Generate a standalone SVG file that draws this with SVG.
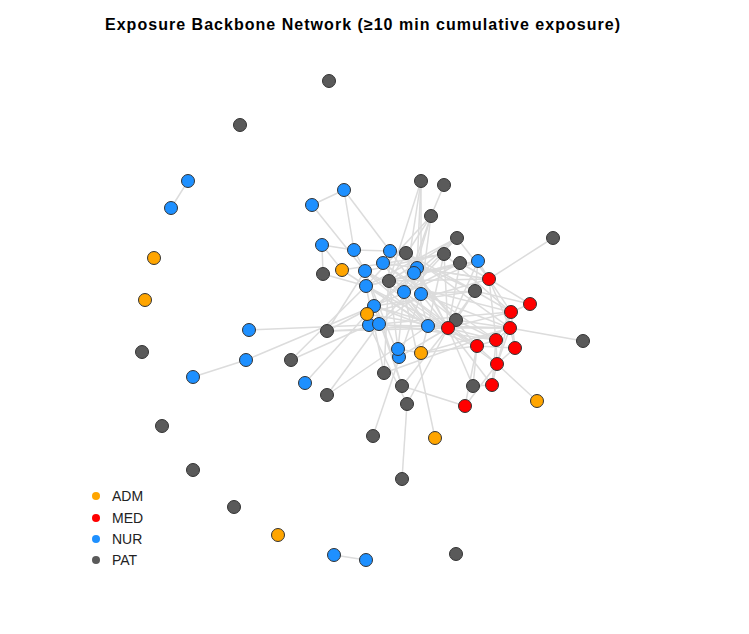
<svg xmlns="http://www.w3.org/2000/svg" width="749" height="634" viewBox="0 0 749 634">
<style>
.e{stroke:#dcdcdc;stroke-width:1.5;fill:none}
.n{stroke:#333;stroke-width:1}
.adm{fill:#FFA500}.med{fill:#FF0000}.nur{fill:#1E90FF}.pat{fill:#5A5A5A}
text{font-family:"Liberation Sans",Arial,sans-serif;fill:#222}
.t{font-size:16px;font-weight:bold;fill:#000}
.l{font-size:14px}
</style>
<rect width="749" height="634" fill="#fff"/>
<text class="t" x="105" y="30" textLength="515" lengthAdjust="spacing">Exposure Backbone Network (≥10 min cumulative exposure)</text>
<g id="connectors">
<line class="e" x1="188" y1="181" x2="171" y2="208"/>
<line class="e" x1="334" y1="555" x2="366" y2="560"/>
<line class="e" x1="246" y1="360" x2="193" y2="377"/>
<line class="e" x1="344" y1="190" x2="312" y2="205"/>
<line class="e" x1="344" y1="190" x2="354" y2="250"/>
<line class="e" x1="344" y1="190" x2="390" y2="251"/>
<line class="e" x1="312" y1="205" x2="365" y2="271"/>
<line class="e" x1="322" y1="245" x2="354" y2="250"/>
<line class="e" x1="322" y1="245" x2="323" y2="274"/>
<line class="e" x1="322" y1="245" x2="342" y2="270"/>
<line class="e" x1="354" y1="250" x2="390" y2="251"/>
<line class="e" x1="354" y1="250" x2="365" y2="271"/>
<line class="e" x1="421" y1="181" x2="417" y2="268"/>
<line class="e" x1="421" y1="181" x2="404" y2="292"/>
<line class="e" x1="421" y1="181" x2="389" y2="281"/>
<line class="e" x1="421" y1="181" x2="421" y2="294"/>
<line class="e" x1="444" y1="185" x2="431" y2="216"/>
<line class="e" x1="431" y1="216" x2="414" y2="273"/>
<line class="e" x1="431" y1="216" x2="404" y2="292"/>
<line class="e" x1="431" y1="216" x2="389" y2="281"/>
<line class="e" x1="431" y1="216" x2="366" y2="286"/>
<line class="e" x1="431" y1="216" x2="421" y2="294"/>
<line class="e" x1="553" y1="238" x2="489" y2="279"/>
<line class="e" x1="583" y1="341" x2="510" y2="328"/>
<line class="e" x1="537" y1="401" x2="497" y2="364"/>
<line class="e" x1="249" y1="330" x2="369" y2="325"/>
<line class="e" x1="246" y1="360" x2="374" y2="306"/>
<line class="e" x1="291" y1="360" x2="369" y2="325"/>
<line class="e" x1="291" y1="360" x2="366" y2="286"/>
<line class="e" x1="305" y1="383" x2="367" y2="314"/>
<line class="e" x1="327" y1="395" x2="379" y2="324"/>
<line class="e" x1="327" y1="331" x2="365" y2="271"/>
<line class="e" x1="327" y1="331" x2="374" y2="306"/>
<line class="e" x1="327" y1="331" x2="428" y2="326"/>
<line class="e" x1="327" y1="331" x2="448" y2="328"/>
<line class="e" x1="373" y1="436" x2="421" y2="294"/>
<line class="e" x1="435" y1="438" x2="404" y2="292"/>
<line class="e" x1="402" y1="479" x2="407" y2="404"/>
<line class="e" x1="402" y1="386" x2="465" y2="406"/>
<line class="e" x1="407" y1="404" x2="448" y2="328"/>
<line class="e" x1="473" y1="386" x2="492" y2="385"/>
<line class="e" x1="473" y1="386" x2="477" y2="346"/>
<line class="e" x1="473" y1="386" x2="448" y2="328"/>
<line class="e" x1="465" y1="406" x2="497" y2="364"/>
<line class="e" x1="465" y1="406" x2="477" y2="346"/>
<line class="e" x1="492" y1="385" x2="497" y2="364"/>
<line class="e" x1="492" y1="385" x2="496" y2="340"/>
<line class="e" x1="492" y1="385" x2="448" y2="328"/>
<line class="e" x1="365" y1="271" x2="428" y2="326"/>
<line class="e" x1="365" y1="271" x2="444" y2="254"/>
<line class="e" x1="365" y1="271" x2="448" y2="328"/>
<line class="e" x1="365" y1="271" x2="404" y2="292"/>
<line class="e" x1="366" y1="286" x2="428" y2="326"/>
<line class="e" x1="366" y1="286" x2="448" y2="328"/>
<line class="e" x1="366" y1="286" x2="460" y2="263"/>
<line class="e" x1="366" y1="286" x2="478" y2="261"/>
<line class="e" x1="374" y1="306" x2="448" y2="328"/>
<line class="e" x1="374" y1="306" x2="477" y2="346"/>
<line class="e" x1="374" y1="306" x2="475" y2="291"/>
<line class="e" x1="374" y1="306" x2="478" y2="261"/>
<line class="e" x1="369" y1="325" x2="428" y2="326"/>
<line class="e" x1="369" y1="325" x2="510" y2="328"/>
<line class="e" x1="369" y1="325" x2="511" y2="312"/>
<line class="e" x1="379" y1="324" x2="496" y2="340"/>
<line class="e" x1="379" y1="324" x2="444" y2="254"/>
<line class="e" x1="379" y1="324" x2="421" y2="294"/>
<line class="e" x1="367" y1="314" x2="448" y2="328"/>
<line class="e" x1="367" y1="314" x2="457" y2="238"/>
<line class="e" x1="367" y1="314" x2="417" y2="268"/>
<line class="e" x1="367" y1="314" x2="489" y2="279"/>
<line class="e" x1="383" y1="263" x2="489" y2="279"/>
<line class="e" x1="383" y1="263" x2="428" y2="326"/>
<line class="e" x1="383" y1="263" x2="456" y2="320"/>
<line class="e" x1="383" y1="263" x2="496" y2="340"/>
<line class="e" x1="390" y1="251" x2="421" y2="294"/>
<line class="e" x1="390" y1="251" x2="475" y2="291"/>
<line class="e" x1="417" y1="268" x2="448" y2="328"/>
<line class="e" x1="417" y1="268" x2="489" y2="279"/>
<line class="e" x1="414" y1="273" x2="477" y2="346"/>
<line class="e" x1="414" y1="273" x2="456" y2="320"/>
<line class="e" x1="414" y1="273" x2="478" y2="261"/>
<line class="e" x1="406" y1="253" x2="448" y2="328"/>
<line class="e" x1="406" y1="253" x2="475" y2="291"/>
<line class="e" x1="406" y1="253" x2="428" y2="326"/>
<line class="e" x1="406" y1="253" x2="510" y2="328"/>
<line class="e" x1="389" y1="281" x2="489" y2="279"/>
<line class="e" x1="389" y1="281" x2="428" y2="326"/>
<line class="e" x1="389" y1="281" x2="511" y2="312"/>
<line class="e" x1="389" y1="281" x2="457" y2="238"/>
<line class="e" x1="444" y1="254" x2="448" y2="328"/>
<line class="e" x1="444" y1="254" x2="511" y2="312"/>
<line class="e" x1="444" y1="254" x2="428" y2="326"/>
<line class="e" x1="460" y1="263" x2="489" y2="279"/>
<line class="e" x1="460" y1="263" x2="404" y2="292"/>
<line class="e" x1="460" y1="263" x2="448" y2="328"/>
<line class="e" x1="478" y1="261" x2="489" y2="279"/>
<line class="e" x1="478" y1="261" x2="448" y2="328"/>
<line class="e" x1="478" y1="261" x2="475" y2="291"/>
<line class="e" x1="457" y1="238" x2="404" y2="292"/>
<line class="e" x1="457" y1="238" x2="489" y2="279"/>
<line class="e" x1="457" y1="238" x2="366" y2="286"/>
<line class="e" x1="475" y1="291" x2="448" y2="328"/>
<line class="e" x1="475" y1="291" x2="511" y2="312"/>
<line class="e" x1="475" y1="291" x2="530" y2="304"/>
<line class="e" x1="475" y1="291" x2="456" y2="320"/>
<line class="e" x1="456" y1="320" x2="510" y2="328"/>
<line class="e" x1="456" y1="320" x2="496" y2="340"/>
<line class="e" x1="456" y1="320" x2="428" y2="326"/>
<line class="e" x1="404" y1="292" x2="448" y2="328"/>
<line class="e" x1="404" y1="292" x2="428" y2="326"/>
<line class="e" x1="404" y1="292" x2="477" y2="346"/>
<line class="e" x1="421" y1="294" x2="510" y2="328"/>
<line class="e" x1="421" y1="294" x2="448" y2="328"/>
<line class="e" x1="421" y1="294" x2="475" y2="291"/>
<line class="e" x1="428" y1="326" x2="448" y2="328"/>
<line class="e" x1="428" y1="326" x2="510" y2="328"/>
<line class="e" x1="428" y1="326" x2="421" y2="353"/>
<line class="e" x1="448" y1="328" x2="510" y2="328"/>
<line class="e" x1="448" y1="328" x2="511" y2="312"/>
<line class="e" x1="448" y1="328" x2="477" y2="346"/>
<line class="e" x1="448" y1="328" x2="496" y2="340"/>
<line class="e" x1="448" y1="328" x2="497" y2="364"/>
<line class="e" x1="489" y1="279" x2="511" y2="312"/>
<line class="e" x1="489" y1="279" x2="510" y2="328"/>
<line class="e" x1="489" y1="279" x2="496" y2="340"/>
<line class="e" x1="489" y1="279" x2="530" y2="304"/>
<line class="e" x1="511" y1="312" x2="530" y2="304"/>
<line class="e" x1="511" y1="312" x2="496" y2="340"/>
<line class="e" x1="511" y1="312" x2="515" y2="348"/>
<line class="e" x1="511" y1="312" x2="497" y2="364"/>
<line class="e" x1="510" y1="328" x2="515" y2="348"/>
<line class="e" x1="510" y1="328" x2="496" y2="340"/>
<line class="e" x1="510" y1="328" x2="497" y2="364"/>
<line class="e" x1="496" y1="340" x2="477" y2="346"/>
<line class="e" x1="496" y1="340" x2="497" y2="364"/>
<line class="e" x1="477" y1="346" x2="497" y2="364"/>
<line class="e" x1="477" y1="346" x2="515" y2="348"/>
<line class="e" x1="515" y1="348" x2="497" y2="364"/>
<line class="e" x1="421" y1="353" x2="398" y2="349"/>
<line class="e" x1="421" y1="353" x2="477" y2="346"/>
<line class="e" x1="421" y1="353" x2="510" y2="328"/>
<line class="e" x1="398" y1="349" x2="404" y2="292"/>
<line class="e" x1="398" y1="349" x2="389" y2="281"/>
<line class="e" x1="399" y1="357" x2="365" y2="271"/>
<line class="e" x1="399" y1="357" x2="448" y2="328"/>
<line class="e" x1="384" y1="373" x2="366" y2="286"/>
<line class="e" x1="384" y1="373" x2="390" y2="251"/>
<line class="e" x1="384" y1="373" x2="510" y2="328"/>
<line class="e" x1="402" y1="386" x2="374" y2="306"/>
<line class="e" x1="402" y1="386" x2="365" y2="271"/>
<line class="e" x1="402" y1="386" x2="448" y2="328"/>
<line class="e" x1="407" y1="404" x2="369" y2="325"/>
<line class="e" x1="327" y1="395" x2="428" y2="326"/>
<line class="e" x1="342" y1="270" x2="428" y2="326"/>
<line class="e" x1="342" y1="270" x2="444" y2="254"/>
<line class="e" x1="323" y1="274" x2="366" y2="286"/>
</g>
<g id="nodes">
<g id="pat1"><circle class="n pat" cx="329" cy="81" r="6.5"/></g>
<g id="pat2"><circle class="n pat" cx="240" cy="125" r="6.5"/></g>
<g id="pat3"><circle class="n pat" cx="421" cy="181" r="6.5"/></g>
<g id="pat4"><circle class="n pat" cx="444" cy="185" r="6.5"/></g>
<g id="pat5"><circle class="n pat" cx="431" cy="216" r="6.5"/></g>
<g id="pat6"><circle class="n pat" cx="457" cy="238" r="6.5"/></g>
<g id="pat7"><circle class="n pat" cx="553" cy="238" r="6.5"/></g>
<g id="pat8"><circle class="n pat" cx="406" cy="253" r="6.5"/></g>
<g id="pat9"><circle class="n pat" cx="444" cy="254" r="6.5"/></g>
<g id="pat10"><circle class="n pat" cx="460" cy="263" r="6.5"/></g>
<g id="pat11"><circle class="n pat" cx="323" cy="274" r="6.5"/></g>
<g id="pat12"><circle class="n pat" cx="389" cy="281" r="6.5"/></g>
<g id="pat13"><circle class="n pat" cx="475" cy="291" r="6.5"/></g>
<g id="pat14"><circle class="n pat" cx="456" cy="320" r="6.5"/></g>
<g id="pat15"><circle class="n pat" cx="327" cy="331" r="6.5"/></g>
<g id="pat16"><circle class="n pat" cx="583" cy="341" r="6.5"/></g>
<g id="pat17"><circle class="n pat" cx="142" cy="352" r="6.5"/></g>
<g id="pat18"><circle class="n pat" cx="291" cy="360" r="6.5"/></g>
<g id="pat19"><circle class="n pat" cx="384" cy="373" r="6.5"/></g>
<g id="pat20"><circle class="n pat" cx="473" cy="386" r="6.5"/></g>
<g id="pat21"><circle class="n pat" cx="402" cy="386" r="6.5"/></g>
<g id="pat22"><circle class="n pat" cx="327" cy="395" r="6.5"/></g>
<g id="pat23"><circle class="n pat" cx="407" cy="404" r="6.5"/></g>
<g id="pat24"><circle class="n pat" cx="162" cy="426" r="6.5"/></g>
<g id="pat25"><circle class="n pat" cx="373" cy="436" r="6.5"/></g>
<g id="pat26"><circle class="n pat" cx="193" cy="470" r="6.5"/></g>
<g id="pat27"><circle class="n pat" cx="402" cy="479" r="6.5"/></g>
<g id="pat28"><circle class="n pat" cx="234" cy="507" r="6.5"/></g>
<g id="pat29"><circle class="n pat" cx="456" cy="554" r="6.5"/></g>
<g id="nur1"><circle class="n nur" cx="188" cy="181" r="6.5"/></g>
<g id="nur2"><circle class="n nur" cx="171" cy="208" r="6.5"/></g>
<g id="nur3"><circle class="n nur" cx="344" cy="190" r="6.5"/></g>
<g id="nur4"><circle class="n nur" cx="312" cy="205" r="6.5"/></g>
<g id="nur5"><circle class="n nur" cx="322" cy="245" r="6.5"/></g>
<g id="nur6"><circle class="n nur" cx="354" cy="250" r="6.5"/></g>
<g id="nur7"><circle class="n nur" cx="390" cy="251" r="6.5"/></g>
<g id="nur8"><circle class="n nur" cx="383" cy="263" r="6.5"/></g>
<g id="nur9"><circle class="n nur" cx="417" cy="268" r="6.5"/></g>
<g id="nur10"><circle class="n nur" cx="414" cy="273" r="6.5"/></g>
<g id="nur11"><circle class="n nur" cx="478" cy="261" r="6.5"/></g>
<g id="nur12"><circle class="n nur" cx="365" cy="271" r="6.5"/></g>
<g id="nur13"><circle class="n nur" cx="366" cy="286" r="6.5"/></g>
<g id="nur14"><circle class="n nur" cx="404" cy="292" r="6.5"/></g>
<g id="nur15"><circle class="n nur" cx="421" cy="294" r="6.5"/></g>
<g id="nur16"><circle class="n nur" cx="374" cy="306" r="6.5"/></g>
<g id="nur17"><circle class="n nur" cx="369" cy="325" r="6.5"/></g>
<g id="nur18"><circle class="n nur" cx="379" cy="324" r="6.5"/></g>
<g id="nur19"><circle class="n nur" cx="428" cy="326" r="6.5"/></g>
<g id="nur20"><circle class="n nur" cx="249" cy="330" r="6.5"/></g>
<g id="nur22"><circle class="n nur" cx="399" cy="357" r="6.5"/></g>
<g id="nur21"><circle class="n nur" cx="398" cy="349" r="6.5"/></g>
<g id="nur23"><circle class="n nur" cx="246" cy="360" r="6.5"/></g>
<g id="nur24"><circle class="n nur" cx="193" cy="377" r="6.5"/></g>
<g id="nur25"><circle class="n nur" cx="305" cy="383" r="6.5"/></g>
<g id="nur26"><circle class="n nur" cx="334" cy="555" r="6.5"/></g>
<g id="nur27"><circle class="n nur" cx="366" cy="560" r="6.5"/></g>
<g id="adm1"><circle class="n adm" cx="154" cy="258" r="6.5"/></g>
<g id="adm2"><circle class="n adm" cx="145" cy="300" r="6.5"/></g>
<g id="adm3"><circle class="n adm" cx="342" cy="270" r="6.5"/></g>
<g id="adm4"><circle class="n adm" cx="367" cy="314" r="6.5"/></g>
<g id="adm5"><circle class="n adm" cx="421" cy="353" r="6.5"/></g>
<g id="adm6"><circle class="n adm" cx="537" cy="401" r="6.5"/></g>
<g id="adm7"><circle class="n adm" cx="435" cy="438" r="6.5"/></g>
<g id="adm8"><circle class="n adm" cx="278" cy="535" r="6.5"/></g>
<g id="med1"><circle class="n med" cx="489" cy="279" r="6.5"/></g>
<g id="med2"><circle class="n med" cx="530" cy="304" r="6.5"/></g>
<g id="med3"><circle class="n med" cx="511" cy="312" r="6.5"/></g>
<g id="med4"><circle class="n med" cx="510" cy="328" r="6.5"/></g>
<g id="med5"><circle class="n med" cx="448" cy="328" r="6.5"/></g>
<g id="med6"><circle class="n med" cx="496" cy="340" r="6.5"/></g>
<g id="med7"><circle class="n med" cx="477" cy="346" r="6.5"/></g>
<g id="med8"><circle class="n med" cx="515" cy="348" r="6.5"/></g>
<g id="med9"><circle class="n med" cx="497" cy="364" r="6.5"/></g>
<g id="med10"><circle class="n med" cx="492" cy="385" r="6.5"/></g>
<g id="med11"><circle class="n med" cx="465" cy="406" r="6.5"/></g>
</g>
<g id="legend">
<circle class="adm" cx="96" cy="496" r="4"/>
<circle class="med" cx="96" cy="518" r="4"/>
<circle class="nur" cx="96" cy="539" r="4"/>
<circle class="pat" cx="96" cy="560" r="4"/>
<text class="l" x="112" y="501">ADM</text>
<text class="l" x="112" y="523">MED</text>
<text class="l" x="112" y="544">NUR</text>
<text class="l" x="112" y="565">PAT</text>
</g>
</svg>
